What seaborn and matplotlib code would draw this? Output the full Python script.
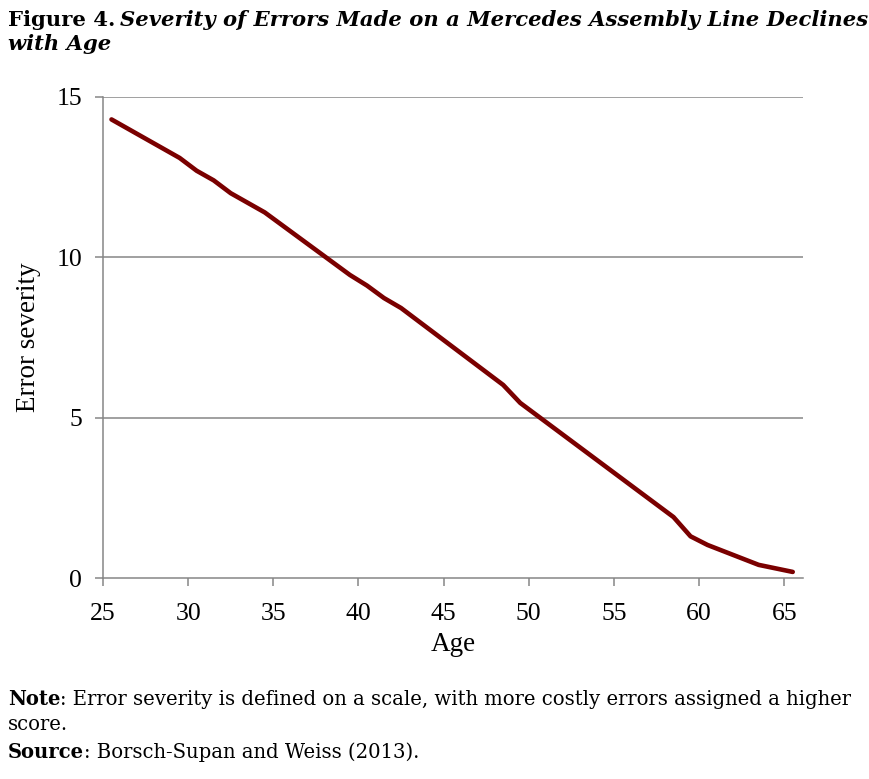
import pandas as pd
import matplotlib.pyplot as plt
import seaborn as sns

# values
age = [25.5, 29.5, 30.5, 31.5, 32.5, 34.5, 39.5, 40.5, 41.5, 42.5,
       48.5, 49.5, 58.5, 59.5, 60.5, 63.5, 65.5]
severity = [14.3, 13.1, 12.7, 12.4, 12.0, 11.4, 9.45, 9.12, 8.73, 8.42,
            6.02, 5.46, 1.90, 1.30, 1.03, 0.41, 0.19]
x_ticks = [25, 30, 35, 40, 45, 50, 55, 60, 65]
y_ticks = [0, 5, 10, 15]

title_main = "Severity of Errors Made on a Mercedes Assembly Line Declines"
note_text = ": Error severity is defined on a scale, with more costly errors assigned a higher"
source_text = ": Borsch-Supan and Weiss (2013)."

sns.set_theme(style="white")
plt.rcParams['font.family'] = ['Liberation Serif', 'DejaVu Serif']
plt.rcParams['text.color'] = 'black'
plt.rcParams['axes.labelcolor'] = 'black'

# wide serif close to Georgia for the title and notes
tf = ['DejaVu Serif']

df = pd.DataFrame({"Age": age, "Error severity": severity})

fig = plt.figure(figsize=(8.69, 7.79), dpi=100)
ax = fig.add_axes([0.1185, 0.258, 0.8055, 0.6175])

sns.lineplot(data=df, x="Age", y="Error severity", ax=ax,
             color="#7a0000", linewidth=3.3)

gray = "#868686"
ax.set_xlim(25, 66.1)
ax.set_ylim(0, 15)
ax.set_xticks(x_ticks)
ax.set_yticks(y_ticks)
for y in [5, 10, 15]:
    ax.axhline(y, color=gray, linewidth=1.1, zorder=0)

for side in ["top", "right"]:
    ax.spines[side].set_visible(False)
for side in ["left", "bottom"]:
    ax.spines[side].set_color(gray)
    ax.spines[side].set_linewidth(1.1)

ax.tick_params(axis="both", direction="out", length=6, width=1.1,
               color=gray, labelsize=18.5, labelcolor="black",
               bottom=True, left=True)
ax.tick_params(axis="x", pad=12)
ax.tick_params(axis="y", pad=9)
ax.set_xlabel("Age", fontsize=19.5, labelpad=5)
ax.set_ylabel("Error severity", fontsize=19.5, labelpad=11)

W = 869.0
H = 779.0


def line_of_two(y_px, first, second, first_kw, second_kw, right_px, gap=5):
    # two text pieces on one baseline, scaled so the line ends at right_px
    a = fig.text(8 / W, 1 - y_px / H, first, va="baseline", family=tf, **first_kw)
    b = fig.text(0, 1 - y_px / H, second, va="baseline", family=tf, **second_kw)
    for _ in range(3):
        fig.canvas.draw()
        ea = a.get_window_extent()
        b.set_x((ea.x1 + gap) / W)
        fig.canvas.draw()
        eb = b.get_window_extent()
        scale = (right_px - 8) / (eb.x1 - ea.x0)
        a.set_fontsize(a.get_fontsize() * scale)
        b.set_fontsize(b.get_fontsize() * scale)
    fig.canvas.draw()
    b.set_x((a.get_window_extent().x1 + gap) / W)
    return a.get_fontsize()


# title
fs_t = line_of_two(26, "Figure 4.", title_main,
                   dict(fontsize=15, fontweight="bold"),
                   dict(fontsize=15, fontweight="bold", fontstyle="italic"),
                   866, gap=5)
fig.text(8 / W, 1 - 50 / H, "with Age", fontsize=fs_t, fontweight="bold",
         fontstyle="italic", family=tf, va="baseline")

# footnotes
fs_n = line_of_two(705, "Note", note_text,
                   dict(fontsize=14, fontweight="bold"),
                   dict(fontsize=14), 850, gap=0)
fig.text(8 / W, 1 - 730 / H, "score.", fontsize=fs_n, family=tf, va="baseline")
s1 = fig.text(8 / W, 1 - 758 / H, "Source", fontsize=fs_n, fontweight="bold",
              family=tf, va="baseline")
fig.canvas.draw()
fig.text(s1.get_window_extent().x1 / W, 1 - 758 / H, source_text,
         fontsize=fs_n, family=tf, va="baseline")

fig.savefig("out.png", dpi=100)
plt.close(fig)
